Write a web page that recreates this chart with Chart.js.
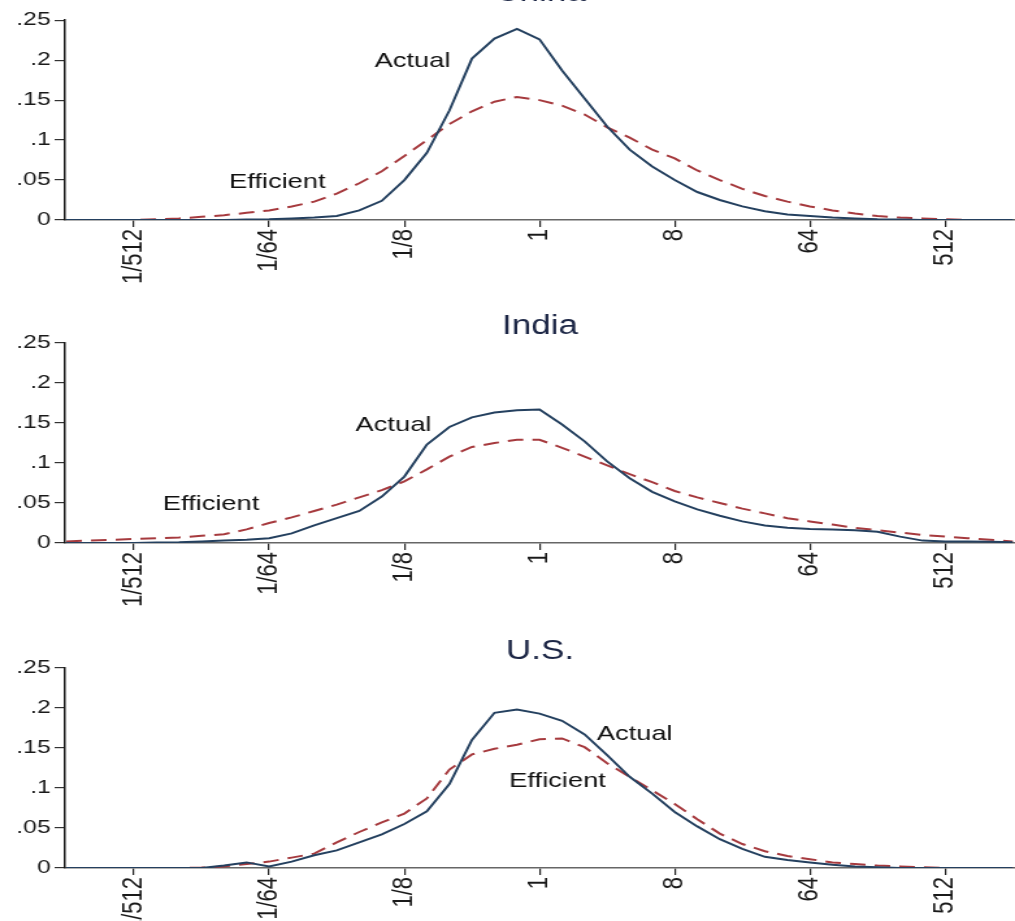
<!DOCTYPE html>
<html>
<head>
<meta charset="utf-8">
<script src="https://cdn.jsdelivr.net/npm/chart.js@4"></script>
<style>
html,body{margin:0;padding:0;background:#fff;overflow:hidden;width:1015px;height:921px;position:relative;}
.panel{position:absolute;left:0;width:781px;height:330px;transform:scaleX(1.2996);transform-origin:0 0;}
canvas{display:block;}
</style>
</head>
<body>
<div class="panel" style="top:-30px"><canvas id="c0" width="781" height="330"></canvas></div>
<div class="panel" style="top:293px"><canvas id="c1" width="781" height="330"></canvas></div>
<div class="panel" style="top:618px"><canvas id="c2" width="781" height="330"></canvas></div>
<script>
// x grid in log2 units (1 = 2^0)
const xGrid = [-10.5,-10,-9.5,-9,-8.5,-8,-7.5,-7,-6.5,-6,-5.5,-5,-4.5,-4,-3.5,-3,-2.5,-2,-1.5,-1,-0.5,0,0.5,1,1.5,2,2.5,3,3.5,4,4.5,5,5.5,6,6.5,7,7.5,8,8.5,9,9.5,10,10.5];
const xTickValues = [-9,-6,-3,0,3,6,9];
const xTickLabels = ['1/512','1/64','1/8','1','8','64','512'];
const yTickValues = [0,0.05,0.1,0.15,0.2,0.25];
const yTickLabels = ['0','.05','.1','.15','.2','.25'];
const panelTitles = ['China','India','U.S.'];

const chinaActual = [0,0,0,0,0,0,0,0,0.0005,0.001,0.002,0.003,0.005,0.012,0.024,0.05,0.084,0.137,0.202,0.227,0.239,0.226,0.187,0.152,0.117,0.088,0.067,0.05,0.035,0.025,0.017,0.011,0.007,0.005,0.003,0.002,0.001,0.0005,0,0,0,0,0];
const chinaEfficient = [0,0,0,0,0.001,0.002,0.004,0.006,0.009,0.012,0.017,0.023,0.033,0.046,0.061,0.08,0.1,0.12,0.136,0.148,0.154,0.15,0.143,0.132,0.116,0.103,0.088,0.077,0.062,0.05,0.039,0.03,0.023,0.017,0.012,0.008,0.005,0.003,0.002,0.001,0,0,0];
const indiaActual = [0,0,0,0,0.0005,0.001,0.002,0.003,0.004,0.006,0.012,0.022,0.031,0.04,0.058,0.083,0.123,0.145,0.157,0.163,0.166,0.167,0.148,0.127,0.102,0.081,0.064,0.052,0.042,0.034,0.027,0.022,0.019,0.0175,0.0168,0.016,0.014,0.008,0.003,0.002,0.002,0.0015,0.001];
const indiaEfficient = [0.002,0.003,0.004,0.005,0.006,0.007,0.009,0.011,0.017,0.025,0.032,0.04,0.048,0.057,0.066,0.077,0.092,0.108,0.12,0.125,0.129,0.129,0.119,0.108,0.097,0.086,0.076,0.065,0.057,0.05,0.043,0.037,0.031,0.027,0.023,0.019,0.016,0.013,0.01,0.008,0.006,0.004,0.002];
const usActual = [0,0,0,0,0,0,0,0.003,0.007,0.002,0.008,0.016,0.022,0.032,0.042,0.055,0.071,0.105,0.16,0.194,0.198,0.193,0.184,0.167,0.141,0.114,0.093,0.07,0.052,0.036,0.024,0.014,0.01,0.007,0.004,0.002,0.001,0,0,0,0,0,0];
const usEfficient = [0,0,0,0,0,0,0.0005,0.002,0.005,0.008,0.013,0.018,0.032,0.045,0.057,0.068,0.087,0.123,0.142,0.149,0.154,0.161,0.162,0.151,0.131,0.114,0.097,0.08,0.061,0.043,0.03,0.021,0.015,0.011,0.007,0.005,0.003,0.002,0.001,0,0,0,0];

const panelSeries = [[chinaActual, chinaEfficient],[indiaActual, indiaEfficient],[usActual, usEfficient]];
// label anchors in data units [x (log2), y]
const panelLabels = [
  [{text:'Actual', x:-2.82, y:0.199},{text:'Efficient', x:-5.82, y:0.0475}],
  [{text:'Actual', x:-3.24, y:0.1475},{text:'Efficient', x:-7.29, y:0.049}],
  [{text:'Actual', x:2.11, y:0.1675},{text:'Efficient', x:0.4, y:0.109}]
];
const titlePads = [{top:7.8,bottom:10},{top:17.6,bottom:0},{top:17.6,bottom:0}];

const FONT = '"Liberation Sans", Arial, sans-serif';

const textLabels = {
  id:'textLabels',
  afterDatasetsDraw(chart, args, opts){
    const {ctx} = chart; const xs = chart.scales.x, ys = chart.scales.y;
    ctx.save();
    ctx.font = '21px ' + FONT;
    ctx.fillStyle = '#111';
    ctx.textAlign = 'center';
    ctx.textBaseline = 'middle';
    (opts.items||[]).forEach(it => ctx.fillText(it.text, xs.getPixelForValue(it.x), ys.getPixelForValue(it.y)));
    ctx.restore();
  }
};

function toPts(vals){ return xGrid.map((x,i)=>({x:x, y:vals[i]})); }

panelTitles.forEach((title, p) => {
  const [act, eff] = panelSeries[p];
  new Chart(document.getElementById('c'+p), {
    type:'line',
    data:{ datasets:[
      {label:'Actual', data:toPts(act), borderColor:'#24405f', borderWidth:2, pointRadius:0, tension:0, fill:false},
      {label:'Efficient', data:toPts(eff), borderColor:'#a63a3e', borderWidth:2, borderDash:[12,7], pointRadius:0, tension:0, fill:false}
    ]},
    options:{
      responsive:false, animation:false, devicePixelRatio:1,
      layout:{padding:{left:0,right:0,top:0,bottom:0}},
      plugins:{
        legend:{display:false}, tooltip:{enabled:false},
        title:{display:true, text:title, fullSize:false, color:'#1c2645',
               font:{family:FONT, size:27, weight:'normal'}, padding:titlePads[p]},
        textLabels:{items:panelLabels[p]}
      },
      scales:{
        x:{type:'linear', min:-10.53, max:10.55,
           afterBuildTicks:s=>{ s.ticks = xTickValues.map(v=>({value:v})); },
           afterFit:s=>{ s.height = 80; },
           ticks:{autoSkip:false, minRotation:90, maxRotation:90, padding:2, color:'#1a1a1a',
                  font:{family:FONT, size:22}, callback:(v,i)=>xTickLabels[i]},
           grid:{drawOnChartArea:false, drawTicks:true, tickLength:7, color:'#222', lineWidth:1.2},
           border:{display:true, color:'#666', width:1.6}},
        y:{min:0, max:0.25,
           afterBuildTicks:s=>{ s.ticks = yTickValues.map(v=>({value:v})); },
           afterFit:s=>{ s.width = 50; },
           ticks:{padding:3, color:'#1a1a1a', font:{family:FONT, size:19}, callback:(v,i)=>yTickLabels[i]},
           grid:{drawOnChartArea:false, drawTicks:true, tickLength:8, color:'#333', lineWidth:1.2},
           border:{display:true, color:'#111', width:1.5}}
      }
    },
    plugins:[textLabels]
  });
});
</script>
</body>
</html>
